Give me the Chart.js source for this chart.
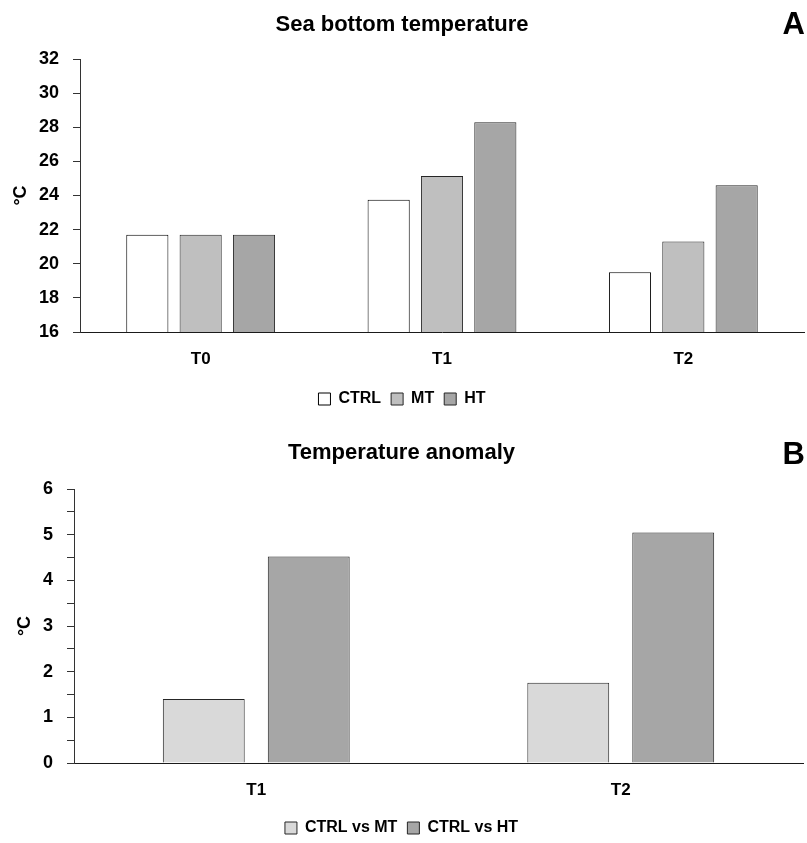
<!DOCTYPE html>
<html><head><meta charset="utf-8">
<script src="https://cdn.jsdelivr.net/npm/chart.js@4.4.0/dist/chart.umd.min.js"></script>
<style>
html,body{margin:0;padding:0;background:#fff;overflow:hidden;width:807px;height:843px;}
#wrapA{position:absolute;left:0;top:0;width:807px;height:430px;}
#wrapB{position:absolute;left:0;top:420px;width:807px;height:430px;}
canvas{display:block;}
</style></head><body>
<div id="wrapA"><canvas id="cA" width="807" height="430"></canvas></div>
<div id="wrapB"><canvas id="cB" width="807" height="430"></canvas></div>
<script>
// ---- Panel A data ----
const categoriesA = ['T0', 'T1', 'T2'];
const ctrlValues = [21.7, 23.75, 19.5];
const mtValues = [21.7, 25.15, 21.3];
const htValues = [21.7, 28.3, 24.6];
const yMinA = 16, yMaxA = 32, yStepA = 2;

// ---- Panel B data ----
const categoriesB = ['T1', 'T2'];
const ctrlVsMt = [1.4, 1.76];
const ctrlVsHt = [4.52, 5.05];
const yMinB = 0, yMaxB = 6, yStepB = 0.5;

const FONT = '"Liberation Sans", Arial, sans-serif';

const panelLetter = {
  id: 'panelLetter',
  afterDraw(chart, args, opts) {
    const ctx = chart.ctx;
    ctx.save();
    ctx.font = 'bold 31px ' + FONT;
    ctx.textAlign = 'right';
    ctx.textBaseline = 'middle';
    ctx.fillStyle = '#000';
    ctx.fillText(opts.text, opts.x, opts.y);
    ctx.restore();
  }
};

function yAxis(min, max, step, width, titlePad) {
  return {
    min: min, max: max,
    afterFit(s) { s.width = width; },
    border: { display: true, color: '#333333', width: 1 },
    grid: { drawOnChartArea: false, drawTicks: true, tickLength: 7, color: '#333333' },
    ticks: {
      stepSize: step, padding: 14, color: '#000',
      font: { family: FONT, size: 18, weight: 'bold' },
      autoSkip: false,
      callback: (v) => (Number.isInteger(v) ? String(v) : '')
    },
    title: { display: true, text: '°C', color: '#000', padding: { top: titlePad, bottom: 0 },
      font: { family: FONT, size: 18, weight: 'bold' } }
  };
}
function xAxis(height) {
  return {
    afterFit(s) { s.height = height; },
    border: { display: true, color: '#1a1a1a', width: 1 },
    grid: { display: false, drawTicks: false },
    ticks: { padding: 17, color: '#000', font: { family: FONT, size: 17, weight: 'bold' } }
  };
}
function legendOpts() {
  return {
    display: true, position: 'bottom',
    labels: { boxWidth: 12, boxHeight: 12, padding: 10, color: '#000',
      font: { family: FONT, size: 16, weight: 'bold' } }
  };
}
function titleOpts(text, top, bottom) {
  return { display: true, text: text, color: '#000', padding: { top: top, bottom: bottom },
    font: { family: FONT, size: 22, weight: 'bold' } };
}

new Chart(document.getElementById('cA'), {
  type: 'bar',
  data: {
    labels: categoriesA,
    datasets: [
      { label: 'CTRL', data: ctrlValues, backgroundColor: '#ffffff', borderColor: '#000000', borderWidth: 1 },
      { label: 'MT', data: mtValues, backgroundColor: '#bfbfbf', borderColor: '#262626', borderWidth: 1 },
      { label: 'HT', data: htValues, backgroundColor: '#a6a6a6', borderColor: '#262626', borderWidth: 1 }
    ]
  },
  options: {
    responsive: false, animation: false,
    categoryPercentage: 0.663, barPercentage: 0.79,
    layout: { padding: { left: 0, right: 3, top: 0, bottom: 13 } },
    scales: { x: xAxis(49), y: yAxis(yMinA, yMaxA, yStepA, 80, 10) },
    plugins: {
      legend: legendOpts(),
      title: titleOpts('Sea bottom temperature', 12, 20.6),
      tooltip: { enabled: false },
      panelLetter: { text: 'A', x: 805, y: 25 }
    }
  },
  plugins: [panelLetter]
});

new Chart(document.getElementById('cB'), {
  type: 'bar',
  data: {
    labels: categoriesB,
    datasets: [
      { label: 'CTRL vs MT', data: ctrlVsMt, backgroundColor: '#d9d9d9', borderColor: '#262626', borderWidth: 1 },
      { label: 'CTRL vs HT', data: ctrlVsHt, backgroundColor: '#a6a6a6', borderColor: '#262626', borderWidth: 1 }
    ]
  },
  options: {
    responsive: false, animation: false,
    categoryPercentage: 0.576, barPercentage: 0.78,
    layout: { padding: { left: 0, right: 4, top: 0, bottom: 4 } },
    scales: { x: xAxis(47), y: yAxis(yMinB, yMaxB, yStepB, 74, 14) },
    plugins: {
      legend: legendOpts(),
      title: titleOpts('Temperature anomaly', 20, 22.6),
      tooltip: { enabled: false },
      panelLetter: { text: 'B', x: 805, y: 35 }
    }
  },
  plugins: [panelLetter]
});
</script>
</body></html>
